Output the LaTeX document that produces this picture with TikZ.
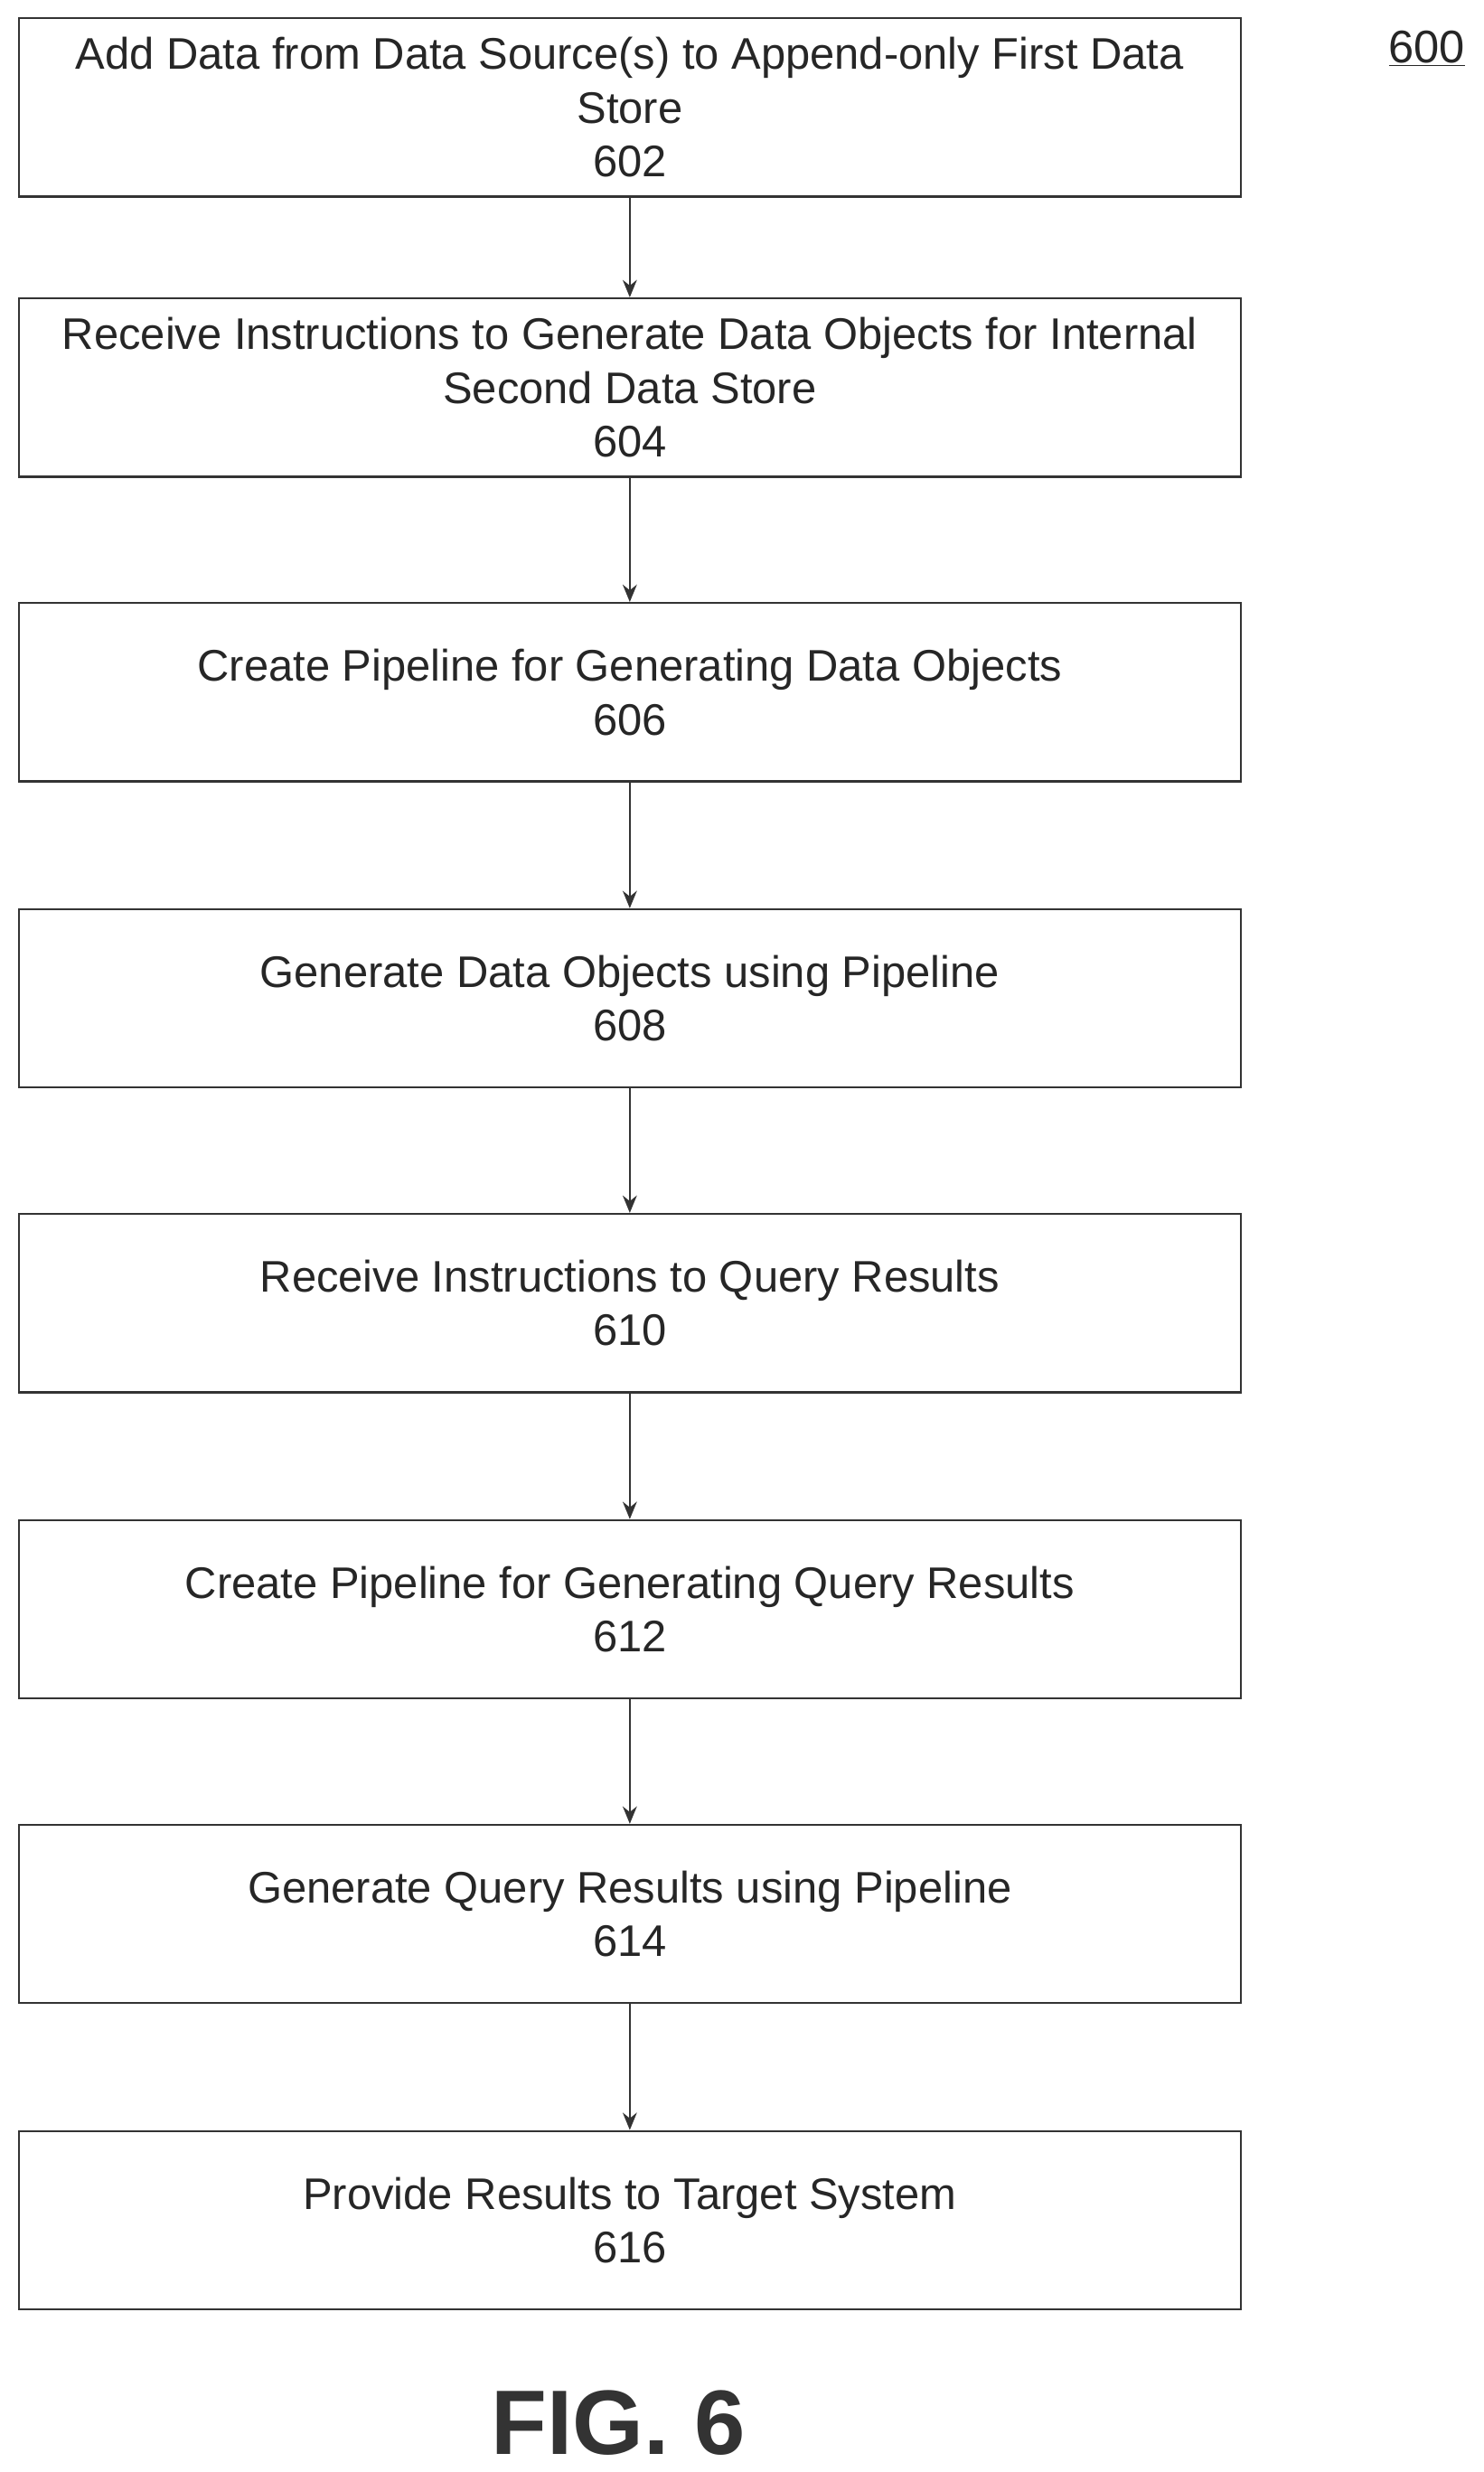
\documentclass[tikz,border=0pt]{standalone}
\usepackage{fontspec}
\setmainfont{Liberation Sans}
\usetikzlibrary{arrows.meta}
\begin{document}
\begin{tikzpicture}[x=1pt,y=-1pt,
  box/.style={draw=black!80,line width=1.3pt,minimum width=774pt,minimum height=113pt,align=center,font=\fontsize{28}{34}\selectfont,text=black!85,inner sep=0pt},
  arr/.style={draw=black!80,line width=1.3pt,-{Stealth[length=11pt,width=9pt]}}]
\useasboundingbox (0,0) rectangle (940,1566);
\node[box] (b1) at (399,68) {Add Data from Data Source(s) to Append-only First Data\\Store\\602};
\node[box] (b2) at (399,245.5) {Receive Instructions to Generate Data Objects for Internal\\Second Data Store\\604};
\node[box] (b3) at (399,438.5) {Create Pipeline for Generating Data Objects\\606};
\node[box] (b4) at (399,632.5) {Generate Data Objects using Pipeline\\608};
\node[box] (b5) at (399,825.5) {Receive Instructions to Query Results\\610};
\node[box] (b6) at (399,1019.5) {Create Pipeline for Generating Query Results\\612};
\node[box] (b7) at (399,1212.5) {Generate Query Results using Pipeline\\614};
\node[box] (b8) at (399,1406.5) {Provide Results to Target System\\616};
\foreach \a/\b in {b1/b2,b2/b3,b3/b4,b4/b5,b5/b6,b6/b7,b7/b8} \draw[arr] (\a) -- (\b);
\node[font=\fontsize{29}{32}\selectfont,text=black!85] (n600) at (904,31) {\underline{600}};
\node[font=\fontsize{58}{62}\selectfont\bfseries,text=black!80] (fig) at (392,1535) {FIG. 6};
\end{tikzpicture}
\end{document}
